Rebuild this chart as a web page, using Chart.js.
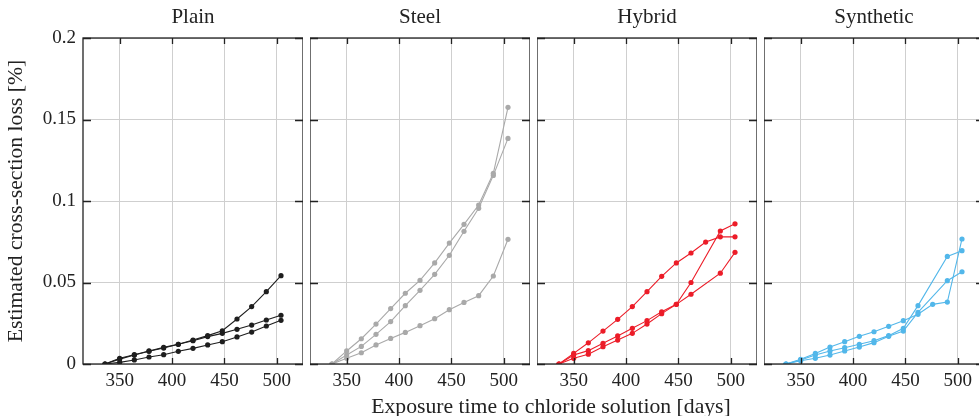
<!DOCTYPE html>
<html>
<head>
<meta charset="utf-8">
<script src="https://cdn.jsdelivr.net/npm/chart.js@4/dist/chart.umd.min.js"></script>
<style>
  html,body{margin:0;padding:0;background:#fff;overflow:hidden;}
  #wrap{position:relative;width:979px;height:416px;overflow:hidden;}
  .panel{position:absolute;top:0;height:416px;}
  #xtitle{position:absolute;left:0;width:1102px;top:393px;text-align:center;line-height:26px;
    font-family:'Liberation Serif',serif;font-size:21.7px;color:#222;}
</style>
</head>
<body>
<div id="wrap">
  <div class="panel" style="left:0px"><canvas id="c0" width="303" height="416"></canvas></div>
  <div class="panel" style="left:310px"><canvas id="c1" width="220" height="416"></canvas></div>
  <div class="panel" style="left:537px"><canvas id="c2" width="220" height="416"></canvas></div>
  <div class="panel" style="left:764px"><canvas id="c3" width="220" height="416"></canvas></div>
  <div id="xtitle">Exposure time to chloride solution [days]</div>
</div>
<script>
// exposure days (x) shared by all specimens
const days = [336,350,364,378,392,406,420,434,448,462,476,490,504];
const panelTitles = ['Plain','Steel','Hybrid','Synthetic'];
const xTicks = [350,400,450,500];
const yTicks = [0,0.05,0.1,0.15,0.2];

// estimated cross-section loss [%]
const plainA = [0,0.0035,0.0057,0.0080,0.0102,0.0121,0.0147,0.0174,0.0204,0.0276,0.0352,0.0444,0.0542];
const plainB = [0,0.0030,0.0055,0.0078,0.0098,0.0121,0.0143,0.0168,0.0188,0.0213,0.0239,0.0270,0.0299];
const plainC = [0,0.0010,0.0025,0.0043,0.0057,0.0078,0.0096,0.0117,0.0137,0.0166,0.0196,0.0233,0.0268];

const steelA = [0,0.0080,0.0155,0.0245,0.0340,0.0434,0.0513,0.0620,0.0742,0.0857,0.0975,0.1170,0.1575];
const steelB = [0,0.0055,0.0108,0.0182,0.0260,0.0358,0.0452,0.0550,0.0667,0.0814,0.0955,0.1157,0.1384];
const steelC = [0,0.0035,0.0069,0.0117,0.0157,0.0194,0.0235,0.0278,0.0333,0.0378,0.0419,0.0540,0.0765];

const hybridA = [0,0.0065,0.0130,0.0202,0.0274,0.0352,0.0444,0.0538,0.0620,0.0681,0.0748,0.0780,0.0780];
const hybridB = [0,0.0055,0.0082,0.0127,0.0172,0.0219,0.0266,0.0320,0.0366,0.0500,null,0.0816,0.0860];
const hybridC = [0,0.0035,0.0060,0.0106,0.0147,0.0188,0.0245,0.0309,0.0366,0.0428,null,0.0557,0.0685];

const synthA = [0,0.0029,0.0065,0.0104,0.0137,0.0170,0.0198,0.0231,0.0266,0.0305,0.0366,0.0380,0.0767];
const synthB = [0,0.0025,0.0055,0.0080,0.0100,0.0121,0.0143,0.0174,0.0219,0.0358,null,0.0660,0.0695];
const synthC = [0,0.0020,0.0035,0.0055,0.0080,0.0104,0.0131,0.0170,0.0202,0.0317,null,0.0511,0.0566];

const panelSeries = [
  [plainA,plainB,plainC],
  [steelA,steelB,steelC],
  [hybridA,hybridB,hybridC],
  [synthA,synthB,synthC]
];
const panelColors = ['#1e1e1e','#a9a9a9','#ec1c28','#52b7ea'];

const FONT = "'Liberation Serif', serif";

// frame, inward ticks and panel title (centred on the plot area)
const framePlugin = {
  id:'frame',
  afterDraw(chart, args, opts){
    const {ctx, chartArea:a, scales} = chart;
    ctx.save();
    ctx.strokeStyle = '#222';
    ctx.lineWidth = 1.3;
    ctx.beginPath();
    xTicks.forEach(v=>{
      const px = Math.round(scales.x.getPixelForValue(v))+0.5;
      ctx.moveTo(px,a.top); ctx.lineTo(px,a.top+6);
      ctx.moveTo(px,a.bottom); ctx.lineTo(px,a.bottom-6);
    });
    yTicks.forEach(v=>{
      const py = Math.round(scales.y.getPixelForValue(v))+0.5;
      ctx.moveTo(a.left,py); ctx.lineTo(a.left+8,py);
      ctx.moveTo(a.right,py); ctx.lineTo(a.right-8,py);
    });
    ctx.stroke();
    ctx.strokeRect(a.left, a.top, a.right-a.left, a.bottom-a.top);
    ctx.fillStyle = '#222';
    ctx.font = '21px ' + FONT;
    ctx.textAlign = 'center';
    ctx.textBaseline = 'middle';
    ctx.fillText(opts.text, (a.left+a.right)/2, 17);
    ctx.restore();
  }
};

function makePanel(i){
  const first = i===0;
  const datasets = panelSeries[i].map(s=>({
    data: days.map((d,k)=>({x:d, y:s[k]})),
    borderColor: panelColors[i],
    backgroundColor: panelColors[i],
    borderWidth: 1.1,
    pointRadius: 2.6,
    pointBorderWidth: 0,
    spanGaps: true,
    tension: 0
  }));
  new Chart(document.getElementById('c'+i),{
    type:'line',
    data:{datasets},
    options:{
      responsive:false,
      animation:false,
      devicePixelRatio:1,
      layout:{autoPadding:false,padding:{left:0,right:0,top:38,bottom:0}},
      plugins:{
        legend:{display:false},
        tooltip:{enabled:false},
        title:{display:false},
        frame:{text:panelTitles[i]}
      },
      scales:{
        x:{
          type:'linear', min:315, max:525,
          afterBuildTicks(sc){ sc.ticks = xTicks.map(v=>({value:v})); },
          afterFit(sc){ sc.height = 52; },
          grid:{color:'#cfcfcf',lineWidth:1,drawTicks:false},
          border:{display:false},
          ticks:{color:'#222',padding:6,maxRotation:0,font:{family:FONT,size:19}}
        },
        y:{
          min:0, max:0.2,
          afterBuildTicks(sc){ sc.ticks = yTicks.map(v=>({value:v})); },
          afterFit(sc){ sc.width = first ? 83 : 0; },
          grid:{color:'#cfcfcf',lineWidth:1,drawTicks:false},
          border:{display:false},
          ticks:{display:first,color:'#222',padding:7,font:{family:FONT,size:19},
            callback:v=>String(v)},
          title:{display:first,text:'Estimated cross-section loss [%]',color:'#222',
            font:{family:FONT,size:21.7},padding:{top:3,bottom:0}}
        }
      }
    },
    plugins:[framePlugin]
  });
}
[0,1,2,3].forEach(makePanel);
</script>
</body>
</html>
